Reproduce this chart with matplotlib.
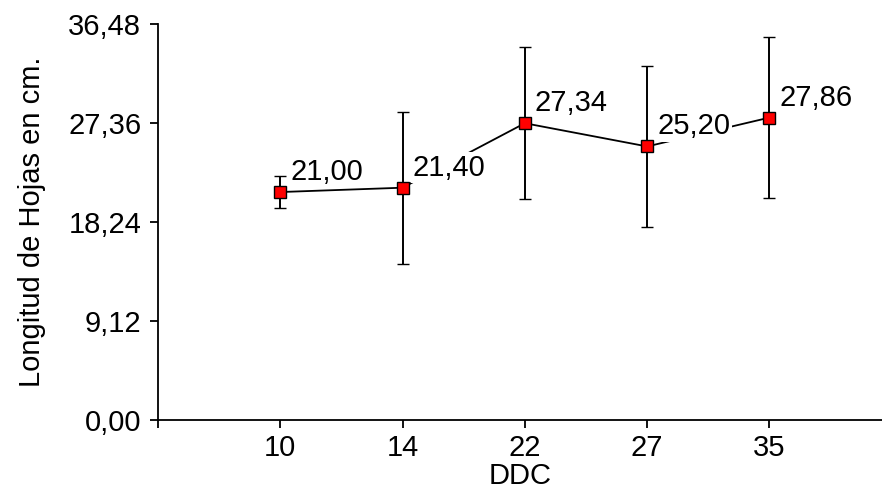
import numpy as np
import matplotlib.pyplot as plt
from matplotlib.ticker import FixedLocator

plt.rcParams['font.family'] = ['Liberation Sans', 'DejaVu Sans']

# data
ddc = ['10', '14', '22', '27', '35']
longitud = [21.00, 21.40, 27.34, 25.20, 27.86]
error = [1.45, 7.0, 7.0, 7.4, 7.45]
labels = ['21,00', '21,40', '27,34', '25,20', '27,86']
yticks = [0.00, 9.12, 18.24, 27.36, 36.48]

fig = plt.figure(figsize=(8.82, 4.95), dpi=100)
ax = fig.add_axes([0.179, 0.1515, 0.821, 0.80])

x = np.arange(len(ddc))
ax.errorbar(x, longitud, yerr=error, color='black', lw=1.3, elinewidth=1.4,
            capsize=4.5, capthick=1.4, marker='s', markersize=9,
            markerfacecolor='red', markeredgecolor='black', markeredgewidth=1.0,
            zorder=2)

for xi, yi, lab in zip(x, longitud, labels):
    ax.annotate(lab, (xi, yi), xytext=(10, 20), textcoords='offset pixels',
                ha='left', va='center', fontsize=21, zorder=3,
                bbox=dict(boxstyle='square,pad=0.05', fc='white', ec='none'))

ax.set_xlim(-1, 4.92)
ax.set_ylim(0, 36.48)
ax.set_xticks(x)
ax.set_xticklabels(ddc)
ax.xaxis.set_minor_locator(FixedLocator([-1]))
ax.set_yticks(yticks)
ax.set_yticklabels([f'{v:.2f}'.replace('.', ',') for v in yticks])

for side in ['top', 'right']:
    ax.spines[side].set_visible(False)
for side in ['left', 'bottom']:
    ax.spines[side].set_linewidth(1.3)

ax.tick_params(axis='both', which='both', direction='out', length=6, width=1.3,
               labelsize=21)
ax.tick_params(axis='x', pad=4)
ax.tick_params(axis='y', pad=6)

ax.set_xlabel('DDC', fontsize=21, labelpad=0)
ax.set_ylabel('Longitud de Hojas en cm.', fontsize=21, labelpad=16)

fig.savefig('out.png', dpi=100)
